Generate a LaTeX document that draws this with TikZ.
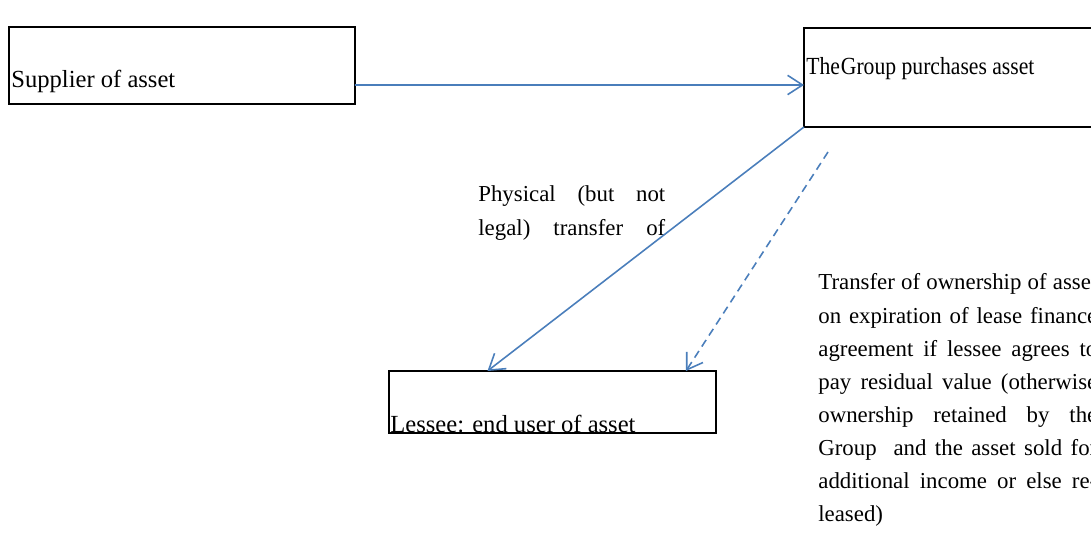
\documentclass[tikz,border=0pt]{standalone}
\usepackage{fontspec}
\setmainfont{Liberation Serif}
\usetikzlibrary{arrows.meta}
\definecolor{leaseblue}{RGB}{74,126,187}
\newcommand{\noteline}[2]{{\spaceskip=0pt\xspaceskip=0pt\makebox[#1][s]{#2}}}
\tikzset{
  box/.style={draw, line width=1.1pt, inner sep=0pt, outer sep=0pt, anchor=north west},
  lbl/.style={anchor=base west, inner sep=0pt, font=\fontsize{14}{18.8}\selectfont},
  para/.style={anchor=base west, inner sep=0pt, text width=#1, align=left, font=\fontsize{13}{18.8}\selectfont},
  flow/.style={draw=leaseblue, line width=0.9pt, -{Straight Barb[length=8.5pt,width=11pt]}}
}
\begin{document}
\begin{tikzpicture}[x=0.02cm,y=-0.02cm]
        \useasboundingbox (0,0) rectangle (1091,536);

        % boxes
        \node[box, minimum width=6.92cm, minimum height=1.54cm] (sup) at (9,27) {};
        \node[box, minimum width=6cm, minimum height=1.98cm] (grp) at (804,28) {};
        \node[box, minimum width=6.54cm, minimum height=1.24cm] (les) at (389,371) {};

        % box texts
        \draw (11,88) node[lbl] (suptxt) {Supplier of asset};
        \draw (806,75) node[lbl] (grptxt) {\addfontfeature{FakeStretch=0.88}The\kern0.5pt Group purchases asset};
        \draw (390,433) node[lbl] (lestxt) {Lessee: end user of asset};

        % notes
        \draw (478,202) node[para=3.74cm] (phys) {\noteline{3.74cm}{Physical (but not}\\
          \noteline{3.74cm}{legal) transfer of}};
        \draw (818,290) node[para=5.58cm] (own) {\noteline{5.58cm}{Transfer of ownership of asset}\\
          \noteline{5.58cm}{on expiration of lease finance}\\
          \noteline{5.58cm}{agreement if lessee agrees to}\\
          \noteline{5.58cm}{pay residual value (otherwise}\\
          \noteline{5.58cm}{ownership retained by the}\\
          \noteline{5.58cm}{Group\ \ and the asset sold for}\\
          \noteline{5.58cm}{additional income or else re-}\\
          leased)};

        % arrows
        \coordinate (dstart) at (828,152);
        \draw[flow] ([yshift=0.38cm]sup.south east) -- ([yshift=0.84cm]grp.south west);
        \draw[flow] (grp.south west) -- ([xshift=-1.3cm]les.north);
        \draw[flow, dash pattern=on 4.5pt off 3pt] (dstart) -- ([xshift=-0.6cm]les.north east);

      \end{tikzpicture}
\end{document}
